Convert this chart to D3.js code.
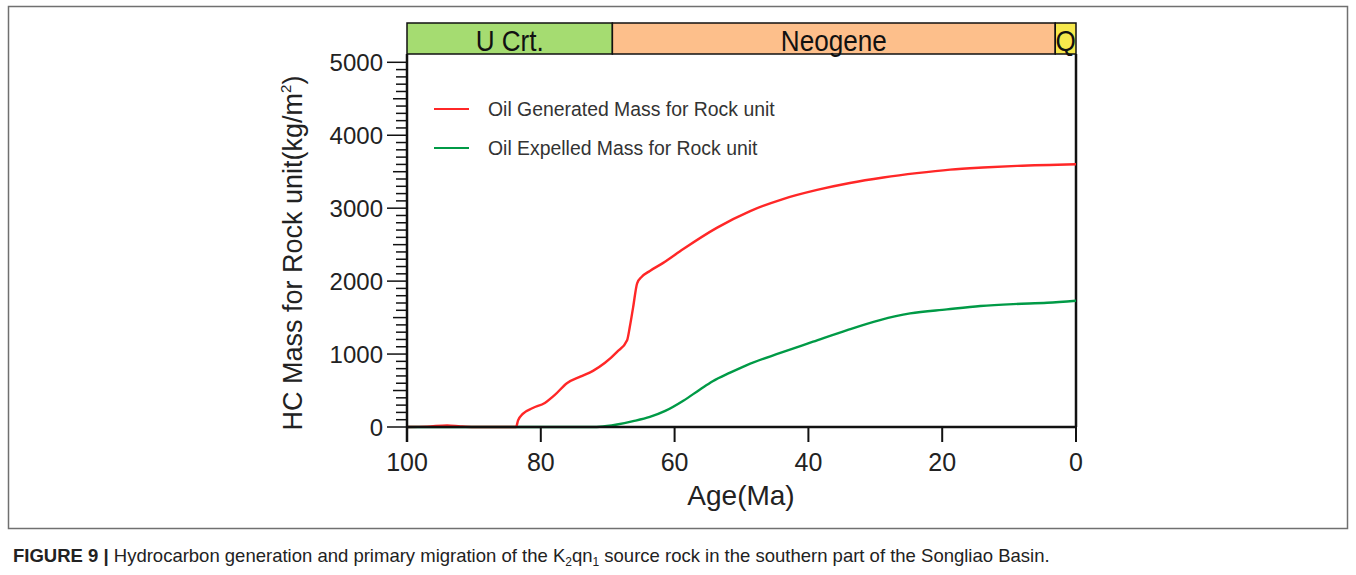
<!DOCTYPE html>
<html>
<head>
<meta charset="utf-8">
<script src="https://cdn.jsdelivr.net/npm/d3@7"></script>
<style>
  html, body { margin: 0; padding: 0; background: #fff; }
  svg { display: block; }
</style>
</head>
<body>
<svg id="chart" width="1356" height="575"></svg>
<script>
// Oil generated mass (red) through time, Ma
const genAge  = [100, 97, 94, 92, 90, 86, 83.7, 83.4, 82.7, 81.2, 79.4, 77.9, 76.1, 74.1, 72.2, 70.4,
                 68.6, 67.1, 66.7, 66.2, 65.6, 64.9, 63.7, 61.7, 58.7, 53.7, 48.7, 43.8, 38.7, 33.8,
                 28.8, 23.8, 18.8, 13.9, 8.8, 0];
const genMass = [0, 5, 22, 8, 0, 0, 0, 90, 180, 260, 330, 440, 600, 690, 770, 880,
                 1030, 1190, 1370, 1640, 1970, 2060, 2140, 2250, 2440, 2730, 2960, 3125, 3250, 3345,
                 3420, 3480, 3528, 3557, 3580, 3603];

// Oil expelled mass (green) through time, Ma
const expAge  = [100, 80, 72, 71.2, 68.6, 66.2, 63.7, 61.4, 58.7, 56.2, 54.3, 51.7, 49.2, 44.2, 39.3,
                 34.2, 29.3, 24.8, 19.3, 14.3, 9.4, 4.3, 0];
const expMass = [0, 0, 0, 3, 35, 80, 138, 220, 360, 515, 628, 745, 849, 1015, 1169,
                 1329, 1466, 1557, 1612, 1658, 1685, 1703, 1730];

// Stratigraphic bar
const periodNames = ["U Crt.", "Neogene", "Q"];
const periodStart = [100, 69.3, 3.1];
const periodEnd   = [69.3, 3.1, 0];
const periodFill  = ["#a5dc71", "#fdbf8b", "#f6e84c"];

const xTicks = [100, 80, 60, 40, 20, 0];
const yTicks = [0, 1000, 2000, 3000, 4000, 5000];

const seriesNames = ["Oil Generated Mass for Rock unit", "Oil Expelled Mass for Rock unit"];
const seriesColors = ["#ff2727", "#009a46"];

const svg = d3.select("#chart");

// outer figure frame
svg.append("rect")
  .attr("x", 8.5).attr("y", 6.5).attr("width", 1339).attr("height", 522)
  .attr("fill", "none").attr("stroke", "#707070").attr("stroke-width", 1.5);

const left = 407, right = 1076, bottom = 427, plotTop = 54, barTop = 23;

const x = d3.scaleLinear().domain([100, 0]).range([left, right]);
const y = d3.scaleLinear().domain([0, 5000]).range([bottom, 62.3]);

const font = "'Liberation Sans', Arial, sans-serif";

// period bar (labels slightly condensed)
const bar = svg.append("g");
periodNames.forEach((name, i) => {
  bar.append("rect")
    .attr("x", x(periodStart[i])).attr("y", barTop)
    .attr("width", x(periodEnd[i]) - x(periodStart[i]))
    .attr("height", plotTop - barTop)
    .attr("fill", periodFill[i]).attr("stroke", "#111").attr("stroke-width", 1.5);
  const cx = (x(periodStart[i]) + x(periodEnd[i])) / 2;
  bar.append("text")
    .attr("transform", `translate(${cx},51) scale(0.9,1)`)
    .attr("text-anchor", "middle")
    .attr("font-family", font).attr("font-size", 29).attr("fill", "#111")
    .text(name);
});

// plot frame (right side)
svg.append("line").attr("x1", right).attr("x2", right).attr("y1", plotTop).attr("y2", bottom)
  .attr("stroke", "#111").attr("stroke-width", 2.5);

// curves
const line = d3.line().curve(d3.curveMonotoneX);
function drawSeries(ages, mass, color) {
  svg.append("path")
    .attr("d", line(ages.map((a, i) => [x(a), y(mass[i])])))
    .attr("fill", "none").attr("stroke", color).attr("stroke-width", 2.4)
    .attr("stroke-linejoin", "round");
}
drawSeries(expAge, expMass, seriesColors[1]);
drawSeries(genAge, genMass, seriesColors[0]);

// y axis: major, half and minor ticks
const yAxisG = svg.append("g");
yAxisG.append("line").attr("x1", left).attr("x2", left).attr("y1", plotTop).attr("y2", bottom + 15)
  .attr("stroke", "#111").attr("stroke-width", 2.5);
d3.range(0, 5001, 100).forEach(v => {
  const len = v % 1000 === 0 ? 20 : (v % 500 === 0 ? 14 : 11);
  yAxisG.append("line")
    .attr("x1", left - len).attr("x2", left)
    .attr("y1", y(v)).attr("y2", y(v))
    .attr("stroke", "#111").attr("stroke-width", 1.5);
});
yAxisG.selectAll("text.ytick").data(yTicks).join("text")
  .attr("class", "ytick")
  .attr("x", left - 24).attr("y", d => y(d)).attr("dy", "0.36em")
  .attr("text-anchor", "end")
  .attr("font-family", font).attr("font-size", 24).attr("fill", "#222")
  .text(d => d);

// x axis
const xAxisG = svg.append("g");
xAxisG.append("line").attr("x1", left).attr("x2", right).attr("y1", bottom).attr("y2", bottom)
  .attr("stroke", "#111").attr("stroke-width", 2.5);
xTicks.forEach(t => {
  xAxisG.append("line").attr("x1", x(t)).attr("x2", x(t)).attr("y1", bottom).attr("y2", bottom + 15)
    .attr("stroke", "#111").attr("stroke-width", 2);
});
xAxisG.selectAll("text.xtick").data(xTicks).join("text")
  .attr("class", "xtick")
  .attr("x", d => x(d)).attr("y", 471)
  .attr("text-anchor", "middle")
  .attr("font-family", font).attr("font-size", 25).attr("fill", "#222")
  .text(d => d);

// axis titles
svg.append("text")
  .attr("x", 741).attr("y", 505)
  .attr("text-anchor", "middle")
  .attr("font-family", font).attr("font-size", 28).attr("fill", "#222")
  .text("Age(Ma)");

const yt = svg.append("text")
  .attr("transform", "translate(302,253) rotate(-90)")
  .attr("text-anchor", "middle")
  .attr("font-family", font).attr("font-size", 27).attr("fill", "#222");
yt.append("tspan").text("HC Mass for Rock unit(kg/m");
yt.append("tspan").attr("font-size", 15).attr("dy", -11).text("2");
yt.append("tspan").attr("dy", 11).text(")");

// legend
const legY = [109, 148];
seriesNames.forEach((name, i) => {
  svg.append("line").attr("x1", 434).attr("x2", 469).attr("y1", legY[i]).attr("y2", legY[i])
    .attr("stroke", seriesColors[i]).attr("stroke-width", 2.2);
  svg.append("text").attr("x", 488).attr("y", legY[i]).attr("dy", "0.36em")
    .attr("font-family", font).attr("font-size", 19.4).attr("fill", "#333")
    .text(name);
});

// caption
const cap = svg.append("text")
  .attr("x", 13).attr("y", 562)
  .attr("font-family", font).attr("font-size", 18.5).attr("fill", "#222");
cap.append("tspan").attr("font-weight", "bold").text("FIGURE 9 | ");
cap.append("tspan").text("Hydrocarbon generation and primary migration of the K");
cap.append("tspan").attr("font-size", 12).attr("dy", 4).text("2");
cap.append("tspan").attr("dy", -4).text("qn");
cap.append("tspan").attr("font-size", 12).attr("dy", 4).text("1");
cap.append("tspan").attr("dy", -4).text(" source rock in the southern part of the Songliao Basin.");
</script>
</body>
</html>
